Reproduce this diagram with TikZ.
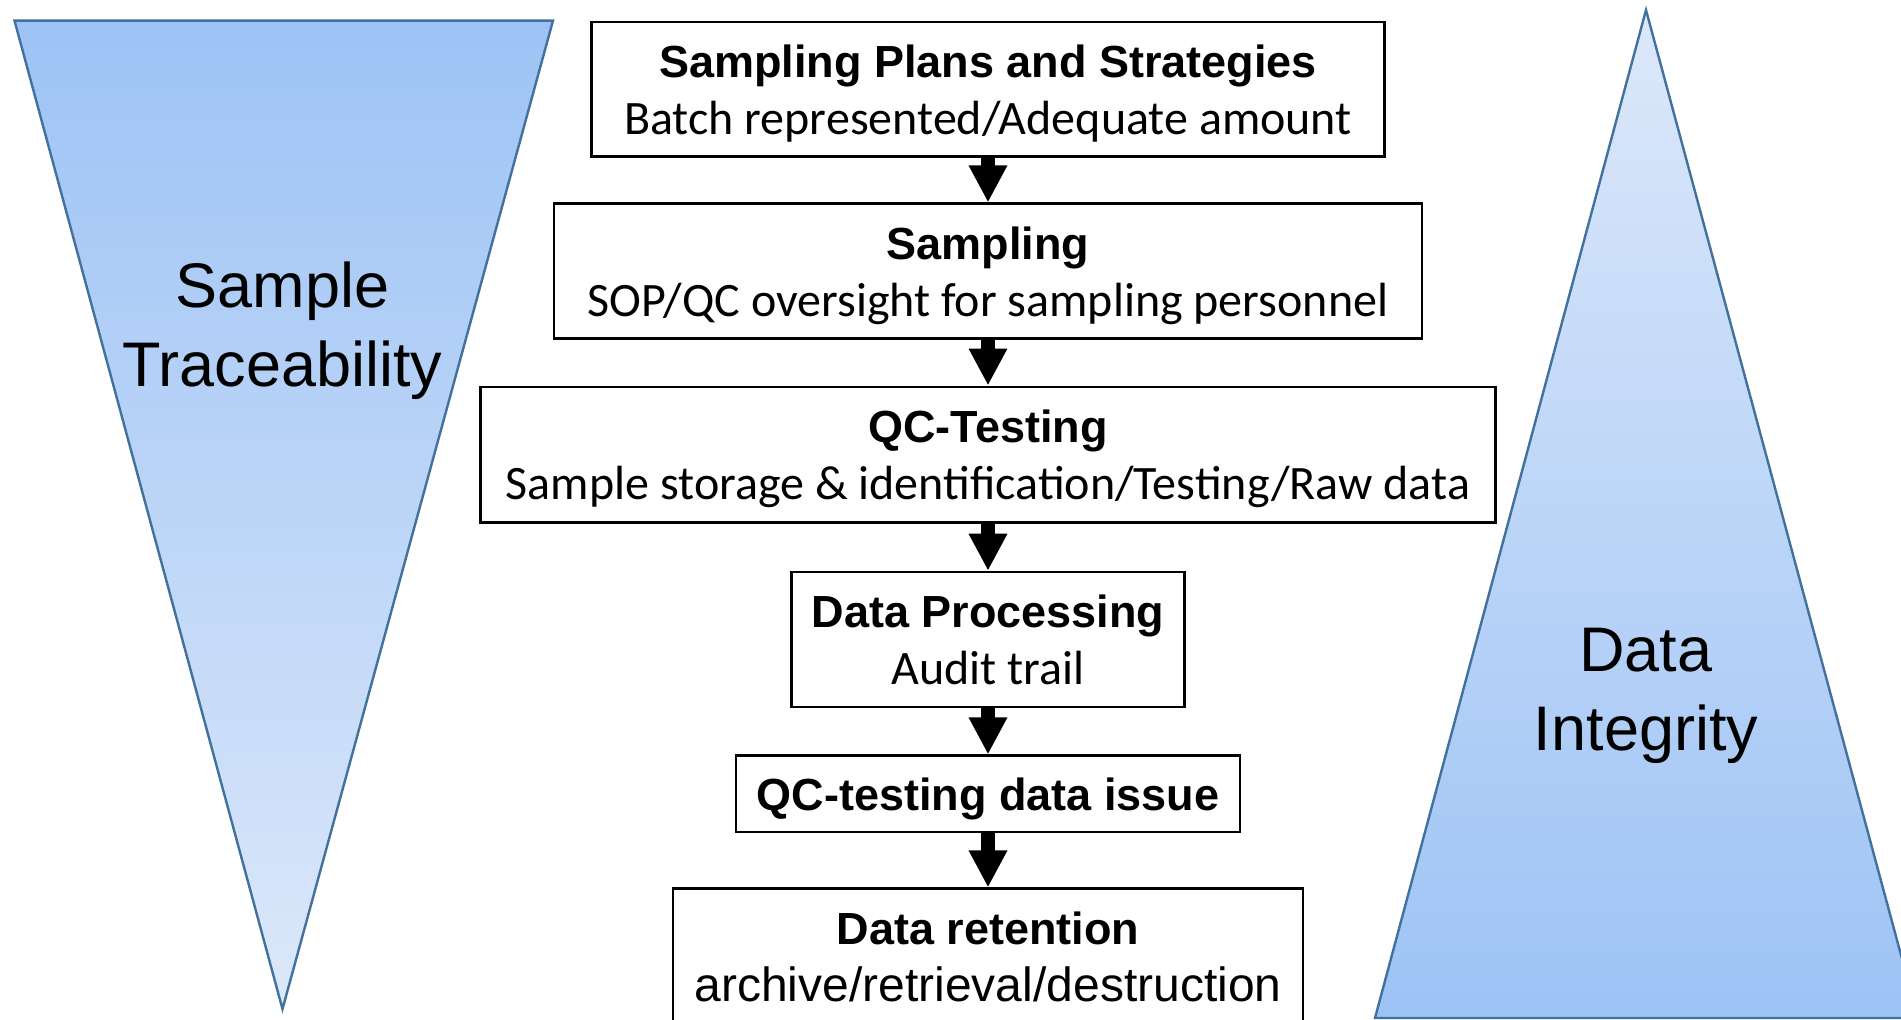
\documentclass[tikz,border=0pt]{standalone}
\usepackage{fontspec}
\setmainfont{Liberation Sans}
\newfontfamily\calib{Carlito}
\usetikzlibrary{arrows.meta}

\definecolor{triline}{RGB}{65,113,156}
\definecolor{tridark}{RGB}{157,195,245}
\definecolor{trilight}{RGB}{220,232,250}

\begin{document}
\begin{tikzpicture}[x=0.5pt,y=-0.5pt,
        stepbox/.style={draw=black,line width=1.25pt,inner sep=0pt},
        headtxt/.style={anchor=base,inner sep=0pt,font=\fontsize{22.5}{27}\selectfont\bfseries},
        subtxt/.style={anchor=base,inner sep=0pt,font=\fontsize{24}{27}\selectfont\calib},
        tritxt/.style={anchor=base,align=center,inner sep=0pt,font=\fontsize{31.5}{39.5}\selectfont},
        flow/.style={line width=7pt,-{Triangle[length=18.5pt,width=18pt]}}]
        % page frame (everything is measured in pixels from the top left)
        \useasboundingbox[fill=white] (0,0) rectangle (1901,1020);
        \pgfmathsetmacro{\cx}{988} % axis of the flow chart
        % Side triangles
        \draw[triline,line width=1.2pt,top color=tridark,bottom color=trilight]
            (14.5,20.6) -- (553,20.6) -- (282.5,1009) -- cycle;
        \draw[triline,line width=1.2pt,top color=trilight,bottom color=tridark]
            (1646,10) -- (1918,1018) -- (1375,1018) -- cycle;
        \node[tritxt] (trace) at (282.5,386.7) {Sample\\Traceability};
        \node[tritxt] (integ) at (1646,751) {Data\\Integrity};
        % The boxes
        \node[stepbox,minimum width=396.5pt,minimum height=67.3pt] (plans) at (\cx,89.1) {};
        \node[stepbox,minimum width=434pt,minimum height=67.3pt] (sampling) at (\cx,271) {};
        \node[stepbox,minimum width=507.5pt,minimum height=67.8pt] (testing) at (\cx,454.6) {};
        \node[stepbox,minimum width=196.5pt,minimum height=67.4pt] (processing) at (\cx,639.4) {};
        \node[stepbox,minimum width=252pt,minimum height=38.2pt] (issue) at (\cx,793.9) {};
        \node[stepbox,minimum width=315pt,minimum height=67.5pt] (retention) at (\cx,956.2) {};
        % Texts in the boxes
        \node[headtxt] (plans-h) at ([yshift=-28.5pt]plans.north) {Sampling Plans and Strategies};
        \node[subtxt] (plans-s) at ([yshift=-56.8pt]plans.north) {Batch represented/Adequate amount};
        \node[headtxt] (sampling-h) at ([yshift=-28.5pt]sampling.north) {Sampling};
        \node[subtxt] (sampling-s) at ([yshift=-56.8pt]sampling.north) {SOP/QC oversight for sampling personnel};
        \node[headtxt] (testing-h) at ([yshift=-28.5pt]testing.north) {QC-Testing};
        \node[subtxt] (testing-s) at ([yshift=-56.8pt]testing.north) {Sample storage \& identification/Testing/Raw data};
        \node[headtxt] (processing-h) at ([yshift=-28.5pt]processing.north) {Data Processing};
        \node[subtxt] (processing-s) at ([yshift=-56.8pt]processing.north) {Audit trail};
        \node[headtxt] (issue-h) at ([yshift=-28pt]issue.north) {QC-testing data issue};
        \node[headtxt] (retention-h) at ([yshift=-28.5pt]retention.north) {Data retention};
        \node[subtxt,font=\fontsize{24}{27}\selectfont] (retention-s) at ([yshift=-56.8pt]retention.north) {archive/retrieval/destruction};
        % Arrows
        \draw[flow] (plans) -- (sampling);
        \draw[flow] (sampling) -- (testing);
        \draw[flow] (testing) -- (processing);
        \draw[flow] (processing) -- (issue);
        \draw[flow] (issue) -- (retention);
        %
\end{tikzpicture}
\end{document}
